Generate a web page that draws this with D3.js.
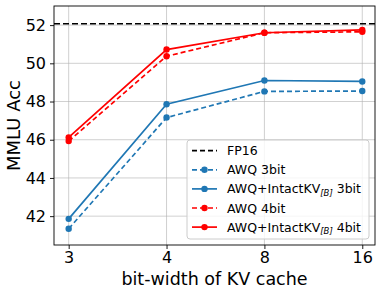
<!DOCTYPE html>
<html>
<head>
<meta charset="utf-8">
<script src="https://cdn.jsdelivr.net/npm/d3@7"></script>
<style>
  body { margin: 0; background: #fff; }
  text { font-family: "DejaVu Sans", sans-serif; }
</style>
</head>
<body>
<svg width="382" height="295"></svg>
<script>
var categories = ["3", "4", "8", "16"];
var fp16 = 52.07;
var awq3 = [41.34, 47.16, 48.53, 48.55];
var intact3 = [41.86, 47.86, 49.1, 49.05];
var awq4 = [45.93, 50.37, 51.6, 51.65];
var intact4 = [46.12, 50.72, 51.6, 51.75];
var yTicks = [42, 44, 46, 48, 50, 52];

var series = [
  { name: "AWQ 3bit", values: awq3, color: "#1f77b4", dash: "5,3" },
  { name: "AWQ+IntactKV", sub: "[B]", tail: " 3bit", values: intact3, color: "#1f77b4", dash: null },
  { name: "AWQ 4bit", values: awq4, color: "#ff0000", dash: "5,3" },
  { name: "AWQ+IntactKV", sub: "[B]", tail: " 4bit", values: intact4, color: "#ff0000", dash: null }
];

var svg = d3.select("svg"),
  pLeft = 54, pRight = 375, pTop = 6, pBottom = 245;

var xScale = d3.scaleLinear().domain([-0.15, 3.13]).range([pLeft, pRight]),
  yScale = d3.scaleLinear().domain([40.49, 53.0]).range([pBottom, pTop]);

// grid
var g = svg.append("g");
g.selectAll(".vgrid").data(categories).enter().append("line")
  .attr("x1", function (d, i) { return xScale(i); })
  .attr("x2", function (d, i) { return xScale(i); })
  .attr("y1", pTop).attr("y2", pBottom)
  .attr("stroke", "#b0b0b0").attr("stroke-opacity", 0.6).attr("stroke-width", 1);
g.selectAll(".hgrid").data(yTicks).enter().append("line")
  .attr("x1", pLeft).attr("x2", pRight)
  .attr("y1", function (d) { return yScale(d); })
  .attr("y2", function (d) { return yScale(d); })
  .attr("stroke", "#b0b0b0").attr("stroke-opacity", 0.6).attr("stroke-width", 1);

// axes
var xAxis = svg.append("g")
  .attr("transform", "translate(0," + pBottom + ")")
  .call(d3.axisBottom(xScale).tickValues([0, 1, 2, 3])
    .tickFormat(function (d) { return categories[d]; })
    .tickSizeOuter(0).tickSize(4).tickPadding(3));
var yAxis = svg.append("g")
  .attr("transform", "translate(" + pLeft + ",0)")
  .call(d3.axisLeft(yScale).tickValues(yTicks).tickSizeOuter(0).tickSize(4).tickPadding(4));
[xAxis, yAxis].forEach(function (a) {
  a.select(".domain").remove();
  a.selectAll("text").attr("font-size", 16).attr("fill", "#000")
    .style("font-family", "DejaVu Sans");
  a.selectAll("line").attr("stroke", "#000").attr("stroke-width", 0.9);
});

svg.append("rect").attr("x", pLeft).attr("y", pTop)
  .attr("width", pRight - pLeft).attr("height", pBottom - pTop)
  .attr("fill", "none").attr("stroke", "#000").attr("stroke-width", 0.9);

// FP16 reference
svg.append("line")
  .attr("x1", pLeft).attr("x2", pRight)
  .attr("y1", yScale(fp16)).attr("y2", yScale(fp16))
  .attr("stroke", "#000").attr("stroke-width", 1.6).attr("stroke-dasharray", "6,3");

var line = d3.line()
  .x(function (d, i) { return xScale(i); })
  .y(function (d) { return yScale(d); });

series.forEach(function (s) {
  svg.append("path").datum(s.values).attr("d", line)
    .attr("fill", "none").attr("stroke", s.color).attr("stroke-width", 1.7)
    .attr("stroke-dasharray", s.dash);
  svg.selectAll(null).data(s.values).enter().append("circle")
    .attr("cx", function (d, i) { return xScale(i); })
    .attr("cy", function (d) { return yScale(d); })
    .attr("r", 3.2).attr("fill", s.color);
});

// labels
svg.append("text").attr("x", (pLeft + pRight) / 2).attr("y", 285)
  .attr("text-anchor", "middle").attr("font-size", 17.5).text("bit-width of KV cache");
svg.append("text").attr("transform", "translate(20," + ((pTop + pBottom) / 2) + ") rotate(-90)")
  .attr("text-anchor", "middle").attr("font-size", 18).text("MMLU Acc");

// legend
var lg = svg.append("g");
lg.append("rect").attr("x", 187).attr("y", 140).attr("width", 182).attr("height", 99)
  .attr("rx", 3).attr("fill", "#fff").attr("fill-opacity", 0.8)
  .attr("stroke", "#ccc").attr("stroke-width", 1);
var entries = [{ name: "FP16", color: "#000", dash: "5,3", marker: false }].concat(
  series.map(function (s) { return Object.assign({ marker: true }, s); }));
entries.forEach(function (e, i) {
  var y = 150.7 + i * 19.1;
  lg.append("line").attr("x1", 192).attr("x2", 217).attr("y1", y).attr("y2", y)
    .attr("stroke", e.color).attr("stroke-width", 1.7).attr("stroke-dasharray", e.dash);
  if (e.marker) {
    lg.append("circle").attr("cx", 204.5).attr("cy", y).attr("r", 3.2).attr("fill", e.color);
  }
  var t = lg.append("text").attr("x", 227).attr("y", y + 4.5).attr("font-size", 12.5);
  t.append("tspan").text(e.name);
  if (e.sub) {
    t.append("tspan").attr("font-size", 8.5).attr("font-style", "italic").attr("dy", 2.5).text(e.sub);
    t.append("tspan").attr("dy", -2.5).text(e.tail);
  }
});
</script>
</body>
</html>
